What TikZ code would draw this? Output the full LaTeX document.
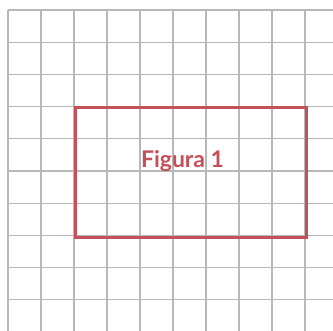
\documentclass[tikz,border=0pt]{standalone}
\usepackage{fontspec}
\setmainfont{Lato}
\definecolor{gridgray}{HTML}{B8B8B8}
\definecolor{figred}{HTML}{C4505A}
\begin{document}
\begin{tikzpicture}[x=1pt,y=-1pt,
  gridline/.style={draw=gridgray,line width=1.2pt},
  redbox/.style={draw=figred,line width=2.6pt},
  label/.style={text=figred,font=\fontsize{23}{23}\selectfont\bfseries,inner sep=0pt}]
\useasboundingbox (0,0) rectangle (333,331);
\foreach \i in {0,...,9} {
  \draw[gridline] ({8+33*\i},10) -- ({8+33*\i},331);
  \draw[gridline] (8,{10+32.2*\i}) -- (333,{10+32.2*\i});
}
\node[redbox,minimum width=231pt,minimum height=130pt,inner sep=0pt,anchor=north west] (box) at (74,106) {};
\node[label] (title) at (182.5,161.5) {Figura 1};
\end{tikzpicture}
\end{document}
